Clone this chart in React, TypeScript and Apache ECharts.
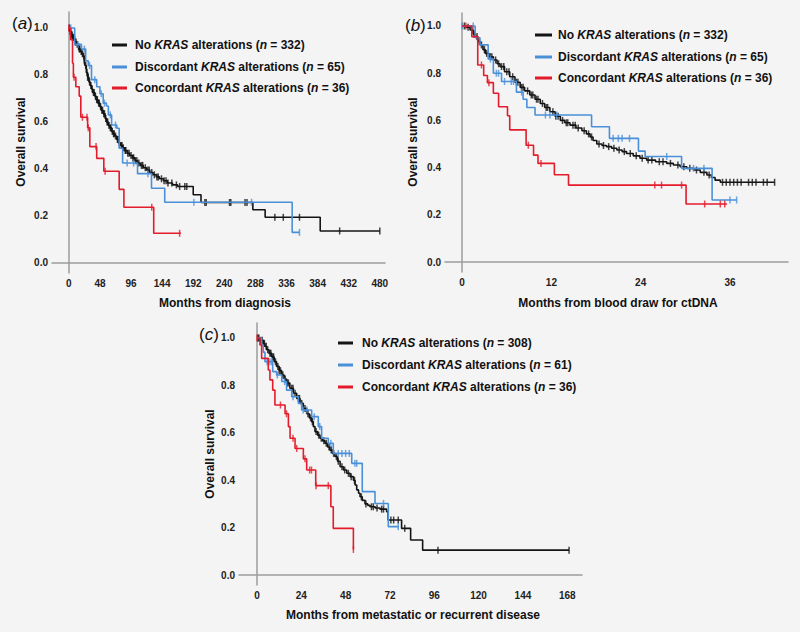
import React, { useEffect, useRef } from "react";
import * as echarts from "echarts";

// ---------- DATA ----------
// Panel (a): months from diagnosis. Each curve: [time, survival after step]
const aNoKras: [number, number][] = [
  [0, 1.0], [2, 0.985], [4, 0.97], [6, 0.96], [8, 0.95], [10, 0.94], [12, 0.93], [14, 0.92], [16, 0.91], [18, 0.9],
  [20, 0.89], [22, 0.88], [24, 0.86], [25, 0.84], [27, 0.81], [29, 0.79], [31, 0.77], [33, 0.755], [35, 0.74],
  [37, 0.725], [40, 0.71], [42, 0.695], [45, 0.68], [48, 0.665], [50, 0.65], [53, 0.635], [56, 0.615], [58, 0.6],
  [61, 0.585], [63, 0.575], [66, 0.56], [68, 0.55], [71, 0.54], [74, 0.525], [77, 0.51], [80, 0.5], [83, 0.49],
  [86, 0.478], [90, 0.467], [94, 0.457], [98, 0.447], [102, 0.435], [106, 0.425], [110, 0.415], [115, 0.405],
  [120, 0.395], [125, 0.385], [130, 0.375], [135, 0.366], [140, 0.358], [146, 0.35], [152, 0.34], [160, 0.332],
  [168, 0.325], [192, 0.29], [204, 0.257], [284, 0.226], [303, 0.194], [388, 0.136], [480, 0.136],
];
const aNoKrasCensor = [1, 2, 3, 4, 5, 6, 7, 9, 10, 11, 13, 15, 16, 17, 19, 21, 23, 24, 26, 28, 29, 30, 32, 34, 36,
  38, 39, 41, 43, 44, 46, 47, 49, 51, 52, 54, 55, 57, 59, 60, 62, 64, 65, 67, 69, 70, 72, 75, 76, 78, 81, 82, 84, 87,
  88, 91, 93, 96, 99, 100, 103, 105, 108, 112, 114, 118, 122, 124, 128, 132, 136, 138, 143, 147, 150, 153, 159, 166,
  171, 179, 182, 210, 212, 248, 250, 272, 275, 318, 331, 356, 418, 480];
const aDiscordant: [number, number][] = [
  [0, 1.0], [9, 0.93], [19.5, 0.91], [26, 0.86], [30, 0.84], [35, 0.78], [43, 0.75], [48, 0.72], [53, 0.68],
  [58, 0.668], [61, 0.63], [66, 0.587], [74, 0.573], [77.7, 0.488], [83, 0.425], [106, 0.38], [127.6, 0.318],
  [148, 0.258], [344.7, 0.13], [356, 0.13],
];
const aDiscordantCensor = [3, 14, 24, 32, 40, 50, 55, 64, 72, 90, 100, 122, 193, 282, 356];
const aConcordant: [number, number][] = [
  [0, 1.0], [2.6, 0.95], [5.7, 0.85], [7, 0.79], [10.8, 0.75], [16, 0.71], [18.5, 0.62], [29, 0.575],
  [32.4, 0.495], [43, 0.445], [54, 0.39], [77.7, 0.313], [85, 0.237], [131, 0.126], [173, 0.126],
];
const aConcordantCensor = [0, 8, 21, 28, 30, 42, 56, 128, 171];

// Panel (b): months from blood draw for ctDNA
const bNoKras: [number, number][] = [
  [0, 1], [0.5, 0.995], [1.07, 0.983], [1.5, 0.965], [1.75, 0.955], [2.1, 0.935], [2.4, 0.92], [2.8, 0.9],
  [3.1, 0.884], [3.6, 0.87], [4.2, 0.856], [4.7, 0.84], [5.1, 0.828], [5.7, 0.806], [6.4, 0.785], [7.1, 0.762],
  [7.8, 0.74], [8.4, 0.725], [9.1, 0.708], [9.8, 0.69], [10.5, 0.672], [11.1, 0.655], [11.8, 0.637], [12.5, 0.618],
  [13.2, 0.6], [13.8, 0.59], [14.5, 0.58], [15.3, 0.568], [16.1, 0.556], [16.7, 0.543], [17.2, 0.53], [17.6, 0.515],
  [18.1, 0.5], [18.8, 0.494], [19.4, 0.489], [20.1, 0.482], [20.8, 0.475], [21.5, 0.468], [22.1, 0.46], [23, 0.45],
  [23.9, 0.44], [24.8, 0.432], [26, 0.425], [27.5, 0.418], [28.4, 0.411], [29.3, 0.404], [30.2, 0.397], [31.1, 0.39],
  [32, 0.38], [32.9, 0.369], [33.5, 0.358], [34, 0.347], [34.7, 0.338], [42, 0.338],
];
const bNoKrasCensor = [0.3, 0.8, 1.3, 1.6, 2, 2.3, 2.6, 3, 3.3, 3.8, 4, 4.5, 4.9, 5.3, 5.6, 6, 6.3, 6.8, 7.3, 7.5, 8,
  8.2, 8.8, 9.3, 9.5, 10, 10.2, 10.8, 11.3, 11.5, 12.2, 12.6, 12.9, 13.5, 14, 14.2, 14.9, 15.2, 15.6, 16.4, 17, 17.4,
  18.4, 19, 19.7, 20.4, 21.1, 21.8, 22.6, 23.4, 24.2, 25, 25.5, 26.5, 27, 28, 29, 29.8, 30.6, 31.5, 32.5, 33.2, 35,
  35.5, 36, 36.5, 37, 37.5, 38.5, 39, 39.5, 40.5, 41, 42];
const bDiscordant: [number, number][] = [
  [0, 1], [1.75, 0.95], [2.4, 0.92], [3.5, 0.86], [4.2, 0.8], [5.3, 0.765], [7.3, 0.72], [8.2, 0.69], [8.7, 0.655],
  [9.8, 0.623], [17.4, 0.573], [19.8, 0.524], [23.7, 0.47], [24.6, 0.447], [29.5, 0.397], [33.6, 0.263], [36.9, 0.263],
];
const bDiscordantCensor = [0, 1.5, 3.8, 4.6, 4.9, 5.7, 6.6, 6.9, 8, 11.2, 11.8, 12.7, 20.3, 21, 21.5, 22.5, 27.5,
  31.1, 32.5, 36, 36.9];
const bConcordant: [number, number][] = [
  [0, 1], [1.3, 0.955], [2.1, 0.835], [2.9, 0.79], [3.4, 0.76], [4.2, 0.715], [4.9, 0.658], [6.1, 0.62],
  [6.4, 0.56], [8.6, 0.495], [9.6, 0.453], [10.2, 0.418], [12.4, 0.37], [14.3, 0.326], [30.1, 0.246], [35.6, 0.246],
];
const bConcordantCensor = [0.5, 2.6, 3.6, 8.9, 10.6, 25.9, 26.8, 29.5, 32.6, 34.7, 35.3];

// Panel (c): months from metastatic or recurrent disease
const cNoKras: [number, number][] = [
  [0, 1], [1.5, 0.99], [3.4, 0.977], [4.3, 0.965], [5.2, 0.95], [6.5, 0.935], [8, 0.92], [9.3, 0.9], [10.6, 0.88],
  [12, 0.862], [13.4, 0.844], [14.7, 0.827], [16, 0.81], [17.8, 0.788], [19.7, 0.767], [21.5, 0.745], [23.3, 0.724],
  [25.1, 0.702], [26.9, 0.68], [28.3, 0.663], [29.6, 0.647], [30.5, 0.626], [31.4, 0.605], [32.8, 0.59], [34.1, 0.577],
  [35.5, 0.566], [36.8, 0.556], [38.2, 0.54], [39.5, 0.527], [40.9, 0.513], [42.2, 0.5], [43.6, 0.48], [45, 0.457],
  [46.8, 0.443], [48.6, 0.429], [50.4, 0.415], [52.2, 0.4], [53.1, 0.38], [54, 0.359], [55, 0.345], [55.8, 0.33],
  [57, 0.315], [58.5, 0.3], [60, 0.294], [61.2, 0.288], [64, 0.283], [66.6, 0.278], [70.2, 0.267], [71, 0.232],
  [78.3, 0.197], [83.2, 0.148], [89.7, 0.105], [169, 0.105],
];
const cNoKrasCensor = [0.5, 1, 2, 2.8, 3.6, 4, 5, 5.8, 7, 7.5, 8.6, 9, 10, 11.3, 12, 12.7, 14, 15.3, 16.4, 17, 18.8,
  19.5, 20.6, 22.4, 23, 24.2, 26, 27.6, 29, 30, 32, 33.4, 34.8, 36.2, 37.5, 39, 40.2, 41.5, 43, 44, 46, 47.5, 49.5, 51,
  52.8, 56.5, 59, 62, 63, 65, 67.5, 68.5, 72.5, 74, 76.5, 80, 98, 169];
const cDiscordant: [number, number][] = [
  [0, 1], [2.5, 0.97], [3.4, 0.94], [4.3, 0.9], [8.5, 0.858], [10.6, 0.844], [13.4, 0.816], [16, 0.78],
  [18.8, 0.752], [22.4, 0.724], [24.2, 0.696], [29.6, 0.668], [33.2, 0.626], [35, 0.577], [38.6, 0.556],
  [41.3, 0.513], [51.3, 0.471], [57, 0.352], [63.9, 0.302], [71.1, 0.204], [76.5, 0.204],
];
const cDiscordantCensor = [5.5, 7, 8, 11, 15, 19.5, 25, 27, 31, 34, 40, 44, 46, 48, 50, 53, 54, 68.5, 76.5];
const cConcordant: [number, number][] = [
  [0, 1], [1.6, 0.97], [2.5, 0.914], [6.1, 0.865], [7, 0.823], [8.5, 0.78], [9.7, 0.717], [15.2, 0.68], [17, 0.626],
  [17.9, 0.577], [20.6, 0.534], [25.1, 0.49], [26.9, 0.443], [31.8, 0.377], [40, 0.288], [41.3, 0.197], [52.2, 0.108],
];
const cConcordantCensor = [0, 12.7, 16, 19.5, 21.5, 26, 28.5, 29.5, 32, 38.6, 52.2];

const xTicksA = [0, 48, 96, 144, 192, 240, 288, 336, 384, 432, 480];
const xTicksB = [0, 12, 24, 36];
const xTicksC = [0, 24, 48, 72, 96, 120, 144, 168];
const yTicks = [0, 0.2, 0.4, 0.6, 0.8, 1.0];

const legendA = ["No {i|KRAS} alterations ({i|n} = 332)", "Discordant {i|KRAS} alterations ({i|n} = 65)", "Concordant {i|KRAS} alterations ({i|n} = 36)"];
const legendB = ["No {i|KRAS} alterations ({i|n} = 332)", "Discordant {i|KRAS} alterations ({i|n} = 65)", "Concordant {i|KRAS} alterations ({i|n} = 36)"];
const legendC = ["No {i|KRAS} alterations ({i|n} = 308)", "Discordant {i|KRAS} alterations ({i|n} = 61)", "Concordant {i|KRAS} alterations ({i|n} = 36)"];

// ---------- STYLE ----------
const FONT = "'Liberation Sans', Arial, sans-serif";
const COLORS = ["#141414", "#4a90d9", "#e31b2b"];
const AXIS_COLOR = "#9c9c9c";
const BG = "#f4f4f4";

function survAt(curve: [number, number][], t: number): number {
  let s = curve[0][1];
  for (const [ct, cs] of curve) {
    if (ct <= t) s = cs;
    else break;
  }
  return s;
}

export default function App() {
  const ref = useRef<HTMLDivElement>(null);

  useEffect(() => {
    if (!ref.current) return;
    const chart = echarts.init(ref.current, null, { renderer: "svg" });

    const grids = [
      { left: 52, top: 12, width: 333, height: 261 },
      { left: 445, top: 13, width: 343, height: 259 },
      { left: 239, top: 323, width: 343, height: 262 },
    ];
    const xRanges = [
      { min: -26, max: 488, ticks: xTicksA },
      { min: -2.3, max: 43.8, ticks: xTicksB },
      { min: -9.75, max: 176, ticks: xTicksC },
    ];
    const yRanges = [
      { min: -0.043, max: 1.068 },
      { min: -0.042, max: 1.055 },
      { min: -0.042, max: 1.063 },
    ];

    const axisLine = { show: true, lineStyle: { color: AXIS_COLOR, width: 1.5 } };
    const xAxis = xRanges.map((r, i) => ({
      type: "value",
      gridIndex: i,
      min: r.min,
      max: r.max,
      axisLine,
      axisTick: { show: false },
      splitLine: { show: false },
      axisLabel: {
        customValues: r.ticks,
        fontSize: 10,
        fontWeight: "bold",
        color: "#222",
        fontFamily: FONT,
        margin: 5,
      },
    }));
    const yAxis = yRanges.map((r, i) => ({
      type: "value",
      gridIndex: i,
      min: r.min,
      max: r.max,
      axisLine,
      axisTick: { show: false },
      splitLine: { show: false },
      axisLabel: {
        customValues: yTicks,
        formatter: (v: number) => v.toFixed(1),
        fontSize: 10,
        fontWeight: "bold",
        color: "#222",
        fontFamily: FONT,
        margin: 4,
      },
    }));

    const panels = [
      { curves: [aNoKras, aDiscordant, aConcordant], censors: [aNoKrasCensor, aDiscordantCensor, aConcordantCensor] },
      { curves: [bNoKras, bDiscordant, bConcordant], censors: [bNoKrasCensor, bDiscordantCensor, bConcordantCensor] },
      { curves: [cNoKras, cDiscordant, cConcordant], censors: [cNoKrasCensor, cDiscordantCensor, cConcordantCensor] },
    ];
    const series: any[] = [];
    panels.forEach((p, pi) => {
      p.curves.forEach((curve, ci) => {
        series.push({
          type: "line",
          xAxisIndex: pi,
          yAxisIndex: pi,
          step: "end",
          data: curve,
          symbol: "none",
          lineStyle: { color: COLORS[ci], width: 1.6 },
          z: 2 + ci,
          silent: true,
        });
        series.push({
          type: "scatter",
          xAxisIndex: pi,
          yAxisIndex: pi,
          data: p.censors[ci].map((t) => [t, survAt(curve, t)]),
          symbol: "rect",
          symbolSize: [1.5, 7],
          itemStyle: { color: COLORS[ci] },
          z: 2 + ci,
          silent: true,
        });
      });
    });

    const textBase = { fontFamily: FONT, fill: "#111" };
    const graphic: any[] = [];
    const panelLabels = [
      { t: "a", x: 12, y: 23 },
      { t: "b", x: 405, y: 25 },
      { t: "c", x: 199, y: 334 },
    ];
    panelLabels.forEach((l) => {
      graphic.push({
        type: "text",
        x: l.x,
        y: l.y,
        style: {
          ...textBase,
          text: `({i|${l.t}})`,
          fontSize: 17,
          verticalAlign: "middle",
          rich: { i: { fontStyle: "italic", fontSize: 17, fontFamily: FONT, fill: "#111" } },
        },
      });
    });
    const legends = [
      { items: legendA, lx1: 112, lx2: 127, tx: 135, ys: [45, 67, 88] },
      { items: legendB, lx1: 535, lx2: 552, tx: 558, ys: [35, 57, 78] },
      { items: legendC, lx1: 338, lx2: 353, tx: 362, ys: [343, 365, 387] },
    ];
    legends.forEach((lg) => {
      lg.items.forEach((txt, i) => {
        graphic.push({
          type: "line",
          shape: { x1: lg.lx1, y1: lg.ys[i], x2: lg.lx2, y2: lg.ys[i] },
          style: { stroke: COLORS[i], lineWidth: 3 },
        });
        graphic.push({
          type: "text",
          x: lg.tx,
          y: lg.ys[i],
          style: {
            ...textBase,
            text: txt,
            fontSize: 12,
            fontWeight: "bold",
            verticalAlign: "middle",
            rich: { i: { fontStyle: "italic", fontWeight: "bold", fontSize: 12, fontFamily: FONT, fill: "#111" } },
          },
        });
      });
    });
    const xTitles = [
      { t: "Months from diagnosis", x: 225, y: 303 },
      { t: "Months from blood draw for ctDNA", x: 618, y: 303 },
      { t: "Months from metastatic or recurrent disease", x: 413, y: 615 },
    ];
    xTitles.forEach((tt) => {
      graphic.push({
        type: "text",
        x: tt.x,
        y: tt.y,
        style: { ...textBase, text: tt.t, fontSize: 12, fontWeight: "bold", align: "center", verticalAlign: "middle" },
      });
    });
    const yTitles = [
      { x: 21, y: 142 },
      { x: 413, y: 142 },
      { x: 210, y: 454 },
    ];
    yTitles.forEach((tt) => {
      graphic.push({
        type: "text",
        x: tt.x,
        y: tt.y,
        rotation: Math.PI / 2,
        style: { ...textBase, text: "Overall survival", fontSize: 12, fontWeight: "bold", align: "center", verticalAlign: "middle" },
      });
    });

    chart.setOption({
      animation: false,
      backgroundColor: BG,
      grid: grids.map((g) => ({ ...g, containLabel: false })),
      xAxis,
      yAxis,
      series,
      graphic,
    });

    return () => chart.dispose();
  }, []);

  return (
    <div
      ref={ref}
      style={{ position: "absolute", left: 0, top: 0, width: 800, height: 632, background: BG }}
    />
  );
}
